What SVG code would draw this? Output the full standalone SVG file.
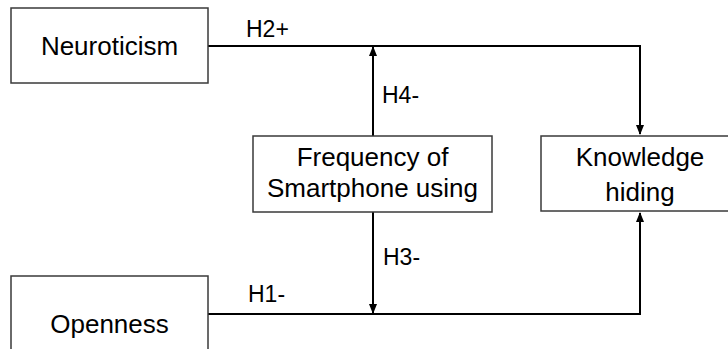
<svg xmlns="http://www.w3.org/2000/svg" width="728" height="349" viewBox="0 0 728 349">
<style>
.box{fill:#fff;stroke:#3a3a3a;stroke-width:1.5}
.t{font-family:"Liberation Sans",Arial,sans-serif;font-size:26px;fill:#000;text-anchor:middle}
.lbl{font-family:"Liberation Sans",Arial,sans-serif;font-size:23px;fill:#000}
.ln{fill:none;stroke:#000;stroke-width:2}
</style>
<defs>
<marker id="ah" markerWidth="10" markerHeight="10" refX="9" refY="4" orient="auto" markerUnits="userSpaceOnUse">
<path d="M0,0 L10,4 L0,8 Z" fill="#000"/>
</marker>
</defs>
<rect width="728" height="349" fill="#fff"/>
<g id="connectors">
<path class="ln" d="M208,46 H640 V134" marker-end="url(#ah)"/>
<path class="ln" d="M208,314 H640 V213" marker-end="url(#ah)"/>
<path class="ln" d="M373,136 V47" marker-end="url(#ah)"/>
<path class="ln" d="M373,212 V313" marker-end="url(#ah)"/>
</g>
<g id="labels">
<text class="lbl" x="246" y="37">H2+</text>
<text class="lbl" x="382" y="103">H4-</text>
<text class="lbl" x="383" y="265">H3-</text>
<text class="lbl" x="248" y="302">H1-</text>
</g>
<g id="neuroticism">
<rect class="box" x="11" y="8" width="197" height="75"/>
<text class="t" x="109.5" y="55">Neuroticism</text>
</g>
<g id="openness">
<rect class="box" x="11" y="276" width="197" height="80"/>
<text class="t" x="109.5" y="333">Openness</text>
</g>
<g id="frequency">
<rect class="box" x="253" y="136" width="239" height="76"/>
<text class="t" x="372.5" y="166">Frequency of</text>
<text class="t" x="372.5" y="197">Smartphone using</text>
</g>
<g id="knowledge">
<rect class="box" x="541" y="136" width="198" height="75"/>
<text class="t" x="640" y="166">Knowledge</text>
<text class="t" x="640" y="201">hiding</text>
</g>
</svg>
